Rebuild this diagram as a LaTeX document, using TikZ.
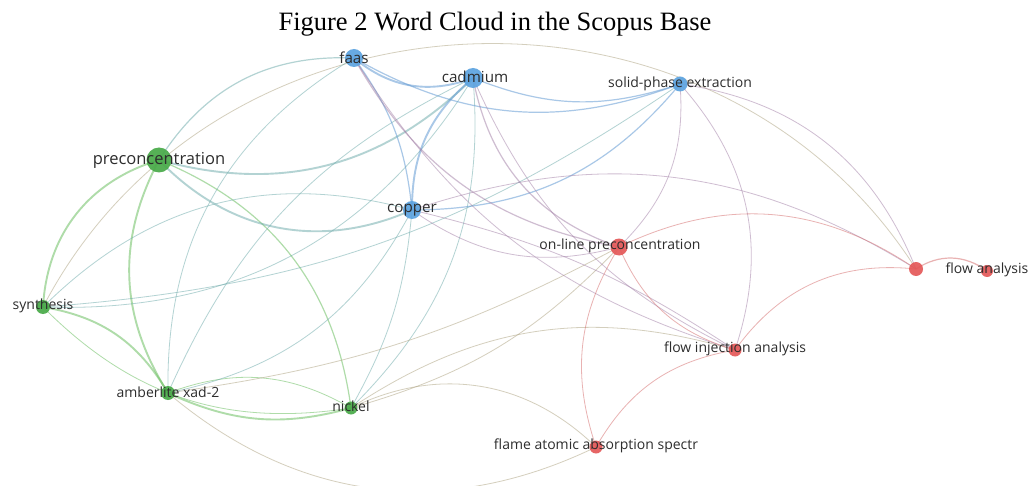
\documentclass[tikz,border=0pt]{standalone}
\usepackage{fontspec}
\setmainfont{Liberation Serif}
\newfontfamily\labfont{Open Sans}
\definecolor{gnode}{RGB}{72,170,72}
\definecolor{bnode}{RGB}{92,163,224}
\definecolor{rnode}{RGB}{228,88,88}
\definecolor{cgg}{RGB}{110,192,100}
\definecolor{cgb}{RGB}{105,168,168}
\definecolor{cbb}{RGB}{100,155,212}
\definecolor{cbr}{RGB}{160,125,165}
\definecolor{crr}{RGB}{215,115,115}
\definecolor{cgr}{RGB}{170,160,125}
\definecolor{labc}{RGB}{45,45,45}
\tikzset{
  gg/.style={draw=cgg,draw opacity=.55},
  gb/.style={draw=cgb,draw opacity=.5},
  bb/.style={draw=cbb,draw opacity=.55},
  br/.style={draw=cbr,draw opacity=.5},
  rr/.style={draw=crr,draw opacity=.55},
  gr/.style={draw=cgr,draw opacity=.5},
  lwa/.style={line width=0.8pt},
  lwb/.style={line width=1.2pt},
  lwc/.style={line width=1.9pt},
  vnode/.style={circle,inner sep=0pt,draw=none,fill opacity=.92},
  lab/.style={font=\labfont\fontsize{14}{14}\selectfont,text=labc,inner sep=0pt,anchor=center},
  labbig/.style={font=\labfont\fontsize{15.2}{15}\selectfont,text=labc,inner sep=0pt,anchor=center},
}
\begin{document}
\begin{tikzpicture}[x=1pt,y=-1pt]
\useasboundingbox (0,0) rectangle (1032,486);
\fill[white] (0,0) rectangle (1032,486);
\node[font=\fontsize{26.5}{28}\selectfont,anchor=base,inner sep=0pt] (title) at (495,31) {Figure 2 Word Cloud in the Scopus Base};
% positions
\coordinate (faas) at (354,58);
\coordinate (cadmium) at (473,78);
\coordinate (spe) at (680,84);
\coordinate (precon) at (159,160);
\coordinate (copper) at (412,210);
\coordinate (online) at (619,247);
\coordinate (redu) at (916,269);
\coordinate (flowan) at (987,271);
\coordinate (synth) at (43,307);
\coordinate (fia) at (735,350);
\coordinate (amber) at (168,393);
\coordinate (nickel) at (351,408);
\coordinate (flame) at (596,447);
% edges
\draw[gr,lwa,looseness=1.1] (synth) to[bend left=60] (redu);
\draw[gg,lwc] (synth) to[bend left=35] (precon);
\draw[gg,lwc] (precon) to[bend right=30] (amber);
\draw[gg,lwb] (precon) to[bend left=30] (nickel);
\draw[gg,lwc] (synth) to[bend left=25] (amber);
\draw[gg,lwa] (synth) to[bend right=27] (nickel);
\draw[gg,lwc] (amber) to[bend right=20] (nickel);
\draw[gg,lwa] (amber) to[bend left=25] (nickel);
\draw[gb,lwc] (precon) to[bend right=35] (copper);
\draw[gb,lwc] (precon) to[bend right=30] (cadmium);
\draw[gb,lwb] (precon) to[bend left=30] (faas);
\draw[gb,lwa] (synth) to[bend left=30] (copper);
\draw[gb,lwa] (synth) to[bend right=30] (cadmium);
\draw[gb,lwa] (synth) to[bend right=15] (spe);
\draw[gb,lwa] (amber) to[bend left=30] (faas);
\draw[gb,lwa] (amber) to[bend left=20] (cadmium);
\draw[gb,lwa] (amber) to[bend right=25] (copper);
\draw[gb,lwa] (nickel) to[bend right=12] (copper);
\draw[gb,lwa] (nickel) to[bend right=25] (cadmium);
\draw[gr,lwa] (amber) to[bend right=33] (flame);
\draw[gr,lwa] (nickel) to[bend left=35] (flame);
\draw[gr,lwa] (nickel) to[bend right=15] (online);
\draw[gr,lwa] (nickel) to[bend left=25] (fia);
\draw[gr,lwa] (amber) to[bend right=10] (online);
\draw[bb,lwc] (faas) to[bend right=30] (cadmium);
\draw[bb,lwb] (faas) to[bend right=25] (spe);
\draw[bb,lwb] (cadmium) to[bend right=20] (spe);
\draw[bb,lwb] (faas) to[bend left=15] (copper);
\draw[bb,lwc] (cadmium) to[bend right=25] (copper);
\draw[bb,lwb] (copper) to[bend right=25] (spe);
\draw[br,lwb] (faas) to[bend right=25] (online);
\draw[br,lwb] (cadmium) to[bend right=30] (online);
\draw[br,lwa] (faas) to[bend right=20] (fia);
\draw[br,lwa] (cadmium) to[bend right=20] (fia);
\draw[br,lwa] (copper) to[bend left=10] (fia);
\draw[br,lwa] (copper) to[bend left=25] (redu);
\draw[br,lwa] (copper) to[bend right=25] (online);
\draw[br,lwa] (spe) to[bend left=25] (online);
\draw[br,lwa] (spe) to[bend left=30] (fia);
\draw[br,lwa] (spe) to[bend left=30] (redu);
\draw[rr,lwa] (online) to[bend left=30] (redu);
\draw[rr,lwa] (online) to[bend right=25] (fia);
\draw[rr,lwa] (online) to[bend right=25] (flame);
\draw[rr,lwa] (fia) to[bend left=30] (redu);
\draw[rr,lwa] (fia) to[bend right=25] (flame);
\draw[rr,lwb] (redu) to[bend left=35] (flowan);
% nodes
\node[vnode,fill=bnode,minimum size=18pt] (faasN) at (faas) {};
\node[vnode,fill=bnode,minimum size=20pt] (cadmiumN) at (cadmium) {};
\node[vnode,fill=bnode,minimum size=15pt] (speN) at (spe) {};
\node[vnode,fill=gnode,minimum size=25pt] (preconN) at (precon) {};
\node[vnode,fill=bnode,minimum size=18pt] (copperN) at (copper) {};
\node[vnode,fill=rnode,minimum size=17pt] (onlineN) at (online) {};
\node[vnode,fill=rnode,minimum size=14pt] (reduN) at (redu) {};
\node[vnode,fill=rnode,minimum size=12pt] (flowanN) at (flowan) {};
\node[vnode,fill=gnode,minimum size=14pt] (synthN) at (synth) {};
\node[vnode,fill=rnode,minimum size=13pt] (fiaN) at (fia) {};
\node[vnode,fill=gnode,minimum size=14pt] (amberN) at (amber) {};
\node[vnode,fill=gnode,minimum size=13pt] (nickelN) at (nickel) {};
\node[vnode,fill=rnode,minimum size=13pt] (flameN) at (flame) {};
% labels
\node[lab,font=\labfont\fontsize{16.5}{16}\selectfont] (preconL) at (precon) {preconcentration};
\node[labbig] (faasL) at (faas) {faas};
\node[labbig] (cadmiumL) at (475,77) {cadmium};
\node[labbig] (copperL) at (copper) {copper};
\node[lab] (speL) at (spe) {solid-phase extraction};
\node[lab] (onlineL) at (620,246) {on-line preconcentration};
\node[lab] (flowanL) at (987,270) {flow analysis};
\node[lab] (synthL) at (43,306) {synthesis};
\node[lab] (fiaL) at (735,349) {flow injection analysis};
\node[lab] (amberL) at (168,392) {amberlite xad-2};
\node[lab] (nickelL) at (351,406) {nickel};
\node[lab] (flameL) at (596,446) {flame atomic absorption spectr};
\end{tikzpicture}
\end{document}
